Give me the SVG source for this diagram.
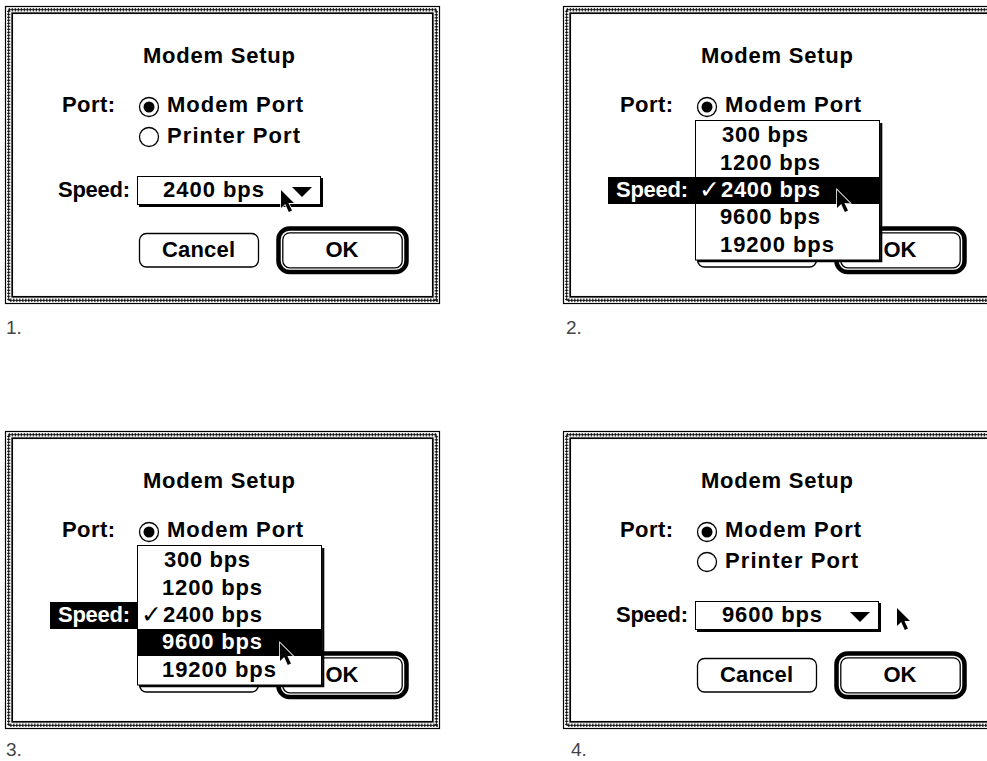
<svg xmlns="http://www.w3.org/2000/svg" xmlns:xlink="http://www.w3.org/1999/xlink" width="987" height="761" viewBox="0 0 987 761">
  <style>
    .ui { font-family: "Liberation Sans", Arial, sans-serif; font-weight: bold; font-size: 22px; fill: #000; }
    .mid { text-anchor: middle; }
    .chk { font-family: "DejaVu Sans", sans-serif; font-size: 25px; fill: #000; }
    .cap { font-family: "Liberation Sans", Arial, sans-serif; font-size: 19px; fill: #444; }
    .inv { fill: #fff; }
    .line { fill: none; stroke: #000; }
    .btn { fill: #fff; stroke: #000; stroke-width: 1.3; }
  </style>
  <defs>
    <!-- ornamental dialog frame -->
    <g id="dlg-frame">
      <rect x="5" y="6" width="435" height="298" fill="#fff"/>
      <rect class="line" x="5.5" y="6.5" width="434" height="297" stroke-width="1.2"/>
      <rect class="line" x="8.7" y="9.7" width="427.6" height="290.6" stroke-width="3.4" stroke-dasharray="1.4 1.6" stroke-opacity="0.75"/>
      <rect class="line" x="8.7" y="9.7" width="427.6" height="290.6" stroke-width="0.9"/>
      <rect class="line" x="12.2" y="13.2" width="420.6" height="283.6" stroke-width="1.7"/>
    </g>
    <!-- radio buttons -->
    <g id="radio-off">
      <circle cx="0" cy="0" r="9.5" fill="#fff" stroke="#000" stroke-width="1.3"/>
    </g>
    <g id="radio-on">
      <circle cx="0" cy="0" r="9.5" fill="#fff" stroke="#000" stroke-width="1.3"/>
      <circle cx="0" cy="0" r="5.5" fill="#000"/>
    </g>
    <!-- push buttons -->
    <rect id="cancel-btn" class="btn" x="139.5" y="233.5" width="119" height="33.5" rx="7"/>
    <g id="ok-btn">
      <rect class="line" x="278.5" y="228.5" width="128" height="43.5" rx="11" stroke-width="4.5"/>
      <rect class="btn" x="282.8" y="232.8" width="119.4" height="35" rx="7" stroke-width="1.2"/>
    </g>
    <!-- pop-up box with shadow -->
    <g id="popup">
      <rect x="137.5" y="176.5" width="183" height="28" fill="#fff" stroke="#000" stroke-width="1"/>
      <polyline class="line" points="139,206 322,206 322,178" stroke-width="2"/>
      <polygon points="292,187 312,187 302,197" fill="#000"/>
    </g>
    <!-- open menu box with shadow -->
    <g id="menu">
      <rect x="137.5" y="120.5" width="184" height="139.5" fill="#fff" stroke="#000" stroke-width="1"/>
      <polyline class="line" points="140,261.2 323.2,261.2 323.2,123" stroke-width="2.2"/>
    </g>
    <!-- arrow pointer -->
    <path id="pointer" d="M0,0 V18 L4.2,14 L7.8,22 L11,20.5 L7.4,13 H13 Z" fill="#000" stroke="#fff" stroke-width="1.6" stroke-linejoin="miter" paint-order="stroke"/>
  </defs>

  <rect x="0" y="0" width="987" height="761" fill="#fff"/>

  <!-- 1: closed pop-up, pointer on the box -->
  <g id="panel-1">
    <use xlink:href="#dlg-frame"/>
    <text class="ui" x="143" y="63" textLength="152" lengthAdjust="spacing">Modem Setup</text>
    <text class="ui" x="62" y="112" textLength="53" lengthAdjust="spacing">Port:</text>
    <use xlink:href="#radio-on" x="149" y="107"/>
    <text class="ui" x="167" y="112" textLength="136" lengthAdjust="spacing">Modem Port</text>
    <use xlink:href="#radio-off" x="149" y="137"/>
    <text class="ui" x="167" y="143" textLength="133" lengthAdjust="spacing">Printer Port</text>
    <text class="ui" x="58" y="197" textLength="72" lengthAdjust="spacing">Speed:</text>
    <use xlink:href="#popup"/>
    <text class="ui" x="163" y="197" textLength="101" lengthAdjust="spacing">2400 bps</text>
    <use xlink:href="#cancel-btn"/>
    <text class="ui" x="162" y="257" textLength="73" lengthAdjust="spacing">Cancel</text>
    <use xlink:href="#ok-btn"/>
    <text class="ui mid" x="342" y="257">OK</text>
    <use xlink:href="#pointer" x="281" y="190"/>
  </g>

  <!-- 2: menu open, current item highlighted -->
  <g id="panel-2" transform="translate(558,0)">
    <use xlink:href="#dlg-frame"/>
    <text class="ui" x="143" y="63" textLength="152" lengthAdjust="spacing">Modem Setup</text>
    <text class="ui" x="62" y="112" textLength="53" lengthAdjust="spacing">Port:</text>
    <use xlink:href="#radio-on" x="149" y="107"/>
    <text class="ui" x="167" y="112" textLength="136" lengthAdjust="spacing">Modem Port</text>
    <use xlink:href="#cancel-btn"/>
    <use xlink:href="#ok-btn"/>
    <text class="ui mid" x="342" y="257">OK</text>
    <use xlink:href="#menu"/>
    <rect x="50" y="177" width="272" height="27" fill="#000"/>
    <text class="ui" x="164" y="142" textLength="86" lengthAdjust="spacing">300 bps</text>
    <text class="ui" x="162" y="170" textLength="100" lengthAdjust="spacing">1200 bps</text>
    <text class="ui inv" x="58" y="197" textLength="72" lengthAdjust="spacing">Speed:</text>
    <text class="chk inv" x="141" y="198">✓</text>
    <text class="ui inv" x="163" y="197" textLength="99" lengthAdjust="spacing">2400 bps</text>
    <text class="ui" x="162" y="224" textLength="100" lengthAdjust="spacing">9600 bps</text>
    <text class="ui" x="162" y="252" textLength="114" lengthAdjust="spacing">19200 bps</text>
    <use xlink:href="#pointer" x="279" y="190"/>
  </g>

  <!-- 3: menu open, pointer dragged to a new item -->
  <g id="panel-3" transform="translate(0,425)">
    <use xlink:href="#dlg-frame"/>
    <text class="ui" x="143" y="63" textLength="152" lengthAdjust="spacing">Modem Setup</text>
    <text class="ui" x="62" y="112" textLength="53" lengthAdjust="spacing">Port:</text>
    <use xlink:href="#radio-on" x="149" y="107"/>
    <text class="ui" x="167" y="112" textLength="136" lengthAdjust="spacing">Modem Port</text>
    <use xlink:href="#cancel-btn"/>
    <use xlink:href="#ok-btn"/>
    <text class="ui mid" x="342" y="257">OK</text>
    <use xlink:href="#menu"/>
    <rect x="50" y="177" width="87.5" height="27" fill="#000"/>
    <rect x="138" y="204" width="183" height="27" fill="#000"/>
    <text class="ui" x="164" y="142" textLength="86" lengthAdjust="spacing">300 bps</text>
    <text class="ui" x="162" y="170" textLength="100" lengthAdjust="spacing">1200 bps</text>
    <text class="ui inv" x="58" y="197" textLength="72" lengthAdjust="spacing">Speed:</text>
    <text class="chk" x="141" y="198">✓</text>
    <text class="ui" x="163" y="197" textLength="99" lengthAdjust="spacing">2400 bps</text>
    <text class="ui inv" x="162" y="224" textLength="100" lengthAdjust="spacing">9600 bps</text>
    <text class="ui" x="162" y="252" textLength="114" lengthAdjust="spacing">19200 bps</text>
    <use xlink:href="#pointer" x="280" y="218"/>
  </g>

  <!-- 4: menu closed, new value shown -->
  <g id="panel-4" transform="translate(558,425)">
    <use xlink:href="#dlg-frame"/>
    <text class="ui" x="143" y="63" textLength="152" lengthAdjust="spacing">Modem Setup</text>
    <text class="ui" x="62" y="112" textLength="53" lengthAdjust="spacing">Port:</text>
    <use xlink:href="#radio-on" x="149" y="107"/>
    <text class="ui" x="167" y="112" textLength="136" lengthAdjust="spacing">Modem Port</text>
    <use xlink:href="#radio-off" x="149" y="137"/>
    <text class="ui" x="167" y="143" textLength="133" lengthAdjust="spacing">Printer Port</text>
    <text class="ui" x="58" y="197" textLength="72" lengthAdjust="spacing">Speed:</text>
    <use xlink:href="#popup"/>
    <text class="ui" x="164" y="197" textLength="100" lengthAdjust="spacing">9600 bps</text>
    <use xlink:href="#cancel-btn"/>
    <text class="ui" x="162" y="257" textLength="73" lengthAdjust="spacing">Cancel</text>
    <use xlink:href="#ok-btn"/>
    <text class="ui mid" x="342" y="257">OK</text>
    <use xlink:href="#pointer" x="339" y="183"/>
  </g>

  <!-- step numbers -->
  <g id="captions">
    <text class="cap" x="6" y="334">1.</text>
    <text class="cap" x="566" y="334">2.</text>
    <text class="cap" x="6" y="756">3.</text>
    <text class="cap" x="571" y="756">4.</text>
  </g>
</svg>
